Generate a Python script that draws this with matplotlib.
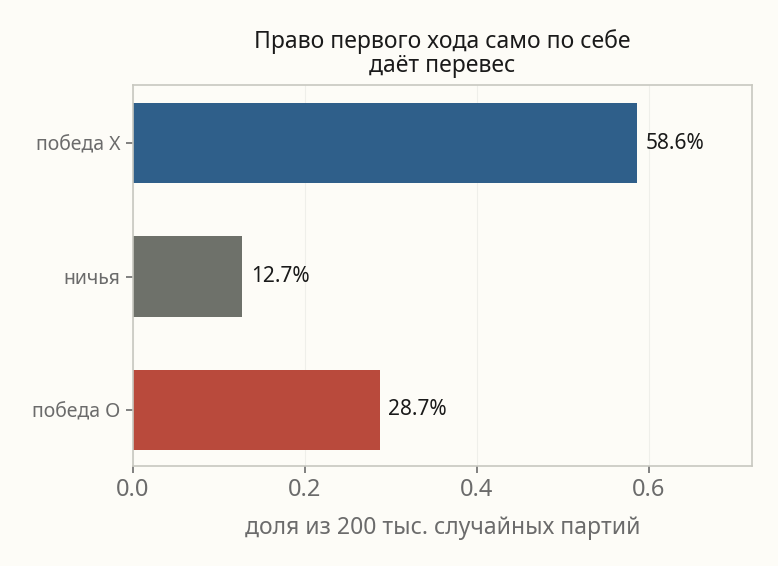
import numpy as np
import matplotlib
matplotlib.use("Agg")
import matplotlib.pyplot as plt

outcomes = ["победа X", "ничья", "победа O"]
shares = [0.586, 0.127, 0.287]
bar_colors = ["#2f5f8a", "#6e716a", "#b94a3c"]
xticks = [0.0, 0.2, 0.4, 0.6]

plt.rcParams['font.family'] = ['Noto Sans', 'DejaVu Sans']

bg = "#fdfcf7"
fig = plt.figure(figsize=(7.78, 5.66), dpi=100, facecolor=bg)
ax = fig.add_axes([133 / 778, 1 - 466 / 566, (752 - 133) / 778, (466 - 85) / 566])
ax.set_facecolor(bg)

y = np.arange(len(outcomes))
ax.barh(y, shares, height=0.6, color=bar_colors, zorder=2)
for yi, v in zip(y, shares):
    ax.text(v + 0.01, yi, f"{v * 100:.1f}%", va="center", ha="left",
            fontsize=15, color="#1a1a1a")

ax.set_xlim(0, 0.72)
ax.set_ylim(2.42, -0.435)
ax.set_yticks(y)
ax.set_yticklabels(outcomes)
ax.set_xticks(xticks)
ax.set_xticklabels([f"{t:.1f}" for t in xticks])
ax.tick_params(axis="x", labelsize=17, colors="#6b6b6b", length=5, width=1.2)
ax.tick_params(axis="y", labelsize=14, colors="#6b6b6b", length=5, width=1.2, pad=4)
ax.grid(axis="x", color="#efefea", linewidth=0.8, zorder=0)
for s in ax.spines.values():
    s.set_color("#c8c8c0")
    s.set_linewidth(1.2)

ax.set_xlabel("доля из 200 тыс. случайных партий", fontsize=16.5, color="#6b6b6b", labelpad=10)
ax.set_title("Право первого хода само по себе\nдаёт перевес", fontsize=16.5,
             color="#1a1a1a", pad=9, linespacing=1.05)

fig.savefig("out.png", facecolor=bg)
